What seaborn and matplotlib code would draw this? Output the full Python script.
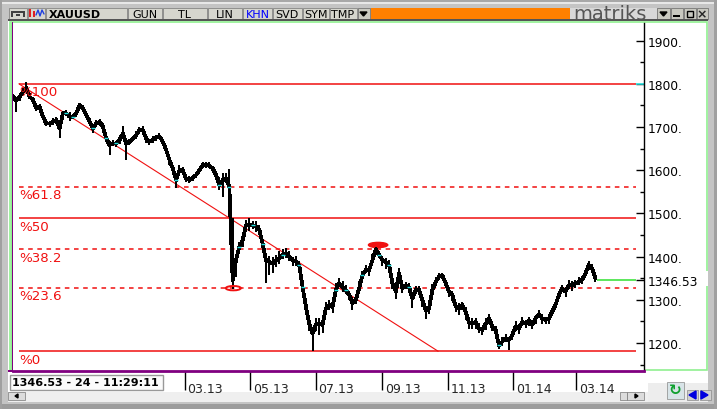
import numpy as np
import pandas as pd
import seaborn as sns
import matplotlib.pyplot as plt
import matplotlib.dates as mdates
from matplotlib.patches import Ellipse, Rectangle, Polygon
from matplotlib.transforms import ScaledTranslation

# closing prices
close = [1770, 1761, 1770, 1782, 1790, 1770, 1763, 1743, 1747, 1724, 1708, 1708, 1712, 1716, 1697, 1732,
         1732, 1724, 1724, 1732, 1751, 1743, 1728, 1712, 1697, 1708, 1712, 1701, 1674, 1658, 1662, 1662,
         1670, 1685, 1662, 1666, 1674, 1681, 1693, 1693, 1674, 1666, 1671, 1676, 1678, 1666, 1647, 1624,
         1604, 1577, 1600, 1600, 1581, 1577, 1583, 1589, 1600, 1612, 1612, 1610, 1604, 1589, 1566, 1577,
         1581, 1562,
         1345, 1392, 1423, 1438, 1473, 1473, 1473, 1469, 1462, 1430, 1392, 1388, 1384, 1392, 1396, 1404,
         1408, 1400, 1392, 1388, 1380, 1330, 1284, 1245, 1222, 1242, 1245, 1242, 1280, 1288, 1284, 1323,
         1338, 1330, 1323, 1311, 1292, 1300, 1327, 1357, 1369, 1369, 1392, 1417, 1404, 1392, 1388, 1380,
         1338, 1319,
         1361, 1327, 1334, 1330, 1303, 1323, 1323, 1300, 1276, 1280, 1323, 1342, 1354, 1357, 1338, 1319,
         1311, 1284, 1280, 1288, 1273, 1247, 1245, 1249, 1234, 1230, 1245, 1257, 1238, 1230, 1195, 1203,
         1211, 1207, 1218, 1238, 1234, 1249, 1245, 1253, 1242, 1257, 1267, 1257, 1253, 1257, 1273, 1288,
         1311, 1327, 1319, 1334, 1334, 1338, 1342, 1346, 1361, 1381, 1373, 1350]

# how far each bar reached below and above its close
reach_down = [8, 26, 9, 7, 10, 6, 9, 7, 10, 8, 6, 9, 7, 8, 23, 10, 7, 9, 6, 8, 7, 9,
              8, 6, 10, 7, 9, 8, 9, 23, 7, 8, 9, 6, 38, 8, 7, 9, 6, 8, 10, 7,
              8, 9, 6, 8, 10, 12, 9, 19, 14, 8, 9, 7, 8, 6, 9, 7, 8, 6, 9, 10,
              12, 38, 10, 60,
              20, 40, 14, 16, 12, 14, 10, 12, 9, 14, 52, 30, 22, 16, 14, 10, 12, 9, 14, 10,
              12, 14, 12, 18, 40, 14, 27, 18, 10, 12, 14, 10, 9, 12, 10, 12, 16, 9, 12, 10, 8,
              14, 9, 12, 8, 14, 16, 10, 12, 18,
              24, 12, 10, 14, 23, 10, 12, 16, 21, 12, 14, 10, 8, 6, 10, 12, 14, 12, 16, 12, 20,
              14, 12, 16, 10, 12, 14, 12, 10, 14, 8, 10, 9, 23, 12, 10, 12, 9, 10, 14, 9, 12, 10,
              14, 9, 12, 10, 8, 6, 10, 12, 9, 14, 10, 8, 9, 10, 12, 8, 8]
reach_up = [6, 8, 7, 9, 14, 8, 6, 9, 7, 8, 10, 6, 8, 7, 9, 6, 8, 10, 7, 6, 5, 8,
            6, 9, 7, 8, 6, 9, 7, 10, 8, 6, 9, 18, 8, 7, 6, 9, 8, 10, 6, 7,
            8, 6, 9, 7, 6, 8, 5, 6, 12, 8, 7, 9, 6, 8, 5, 6, 7, 8, 6, 7,
            18, 16, 12, 40,
            144, 14, 12, 16, 12, 16, 10, 14, 12, 6, 10, 14, 16, 12, 16, 14, 12, 14, 8, 14,
            10, 8, 8, 10, 14, 16, 14, 22, 14, 12, 14, 16, 12, 14, 12, 10, 14, 12, 16, 10, 12,
            10, 14, 6, 8, 10, 8, 12, 8, 6,
            12, 14, 8, 10, 12, 8, 10, 6, 8, 12, 14, 10, 8, 5, 8, 6, 10, 8, 12, 8, 10,
            12, 14, 10, 12, 8, 12, 10, 14, 10, 8, 12, 10, 8, 10, 14, 10, 12, 8, 8, 10, 8, 9,
            10, 8, 10, 8, 6, 10, 8, 10, 12, 10, 8, 12, 9, 8, 8, 10, 10]
cross_bars = [16, 18, 24, 28, 31, 49, 62, 65, 68, 72, 75, 81, 86, 87, 97, 100, 105, 110, 113, 119, 146]

fib_labels = ['%100', '%61.8', '%50', '%38.2', '%23.6', '%0']
fib_levels = [1800, 1562, 1489, 1417, 1327, 1181]
fib_text_y = [1782, 1543, 1469, 1399, 1309, 1161]
fib_solid = [True, False, True, False, False, True]
trend_dates = ['2012-09-27', '2013-10-23']
trend_prices = [1800, 1181]
last_price = 1346.53
month_ticks = ['2013-03-01', '2013-05-01', '2013-07-01', '2013-09-01', '2013-11-01', '2014-01-01', '2014-03-01']
month_labels = ['03.13', '05.13', '07.13', '09.13', '11.13', '01.14', '03.14']
price_ticks = [1200, 1300, 1346.53, 1400, 1500, 1600, 1700, 1800, 1900]
price_labels = ['1200.', '1300.', '1346.53', '1400.', '1500.', '1600.', '1700.', '1800.', '1900.']
tabs = ['GUN', 'TL', 'LIN', 'KHN', 'SVD', 'SYM', 'TMP']

W, H = 717, 410
RED = '#f01010'

sns.set_theme(style='white')
plt.rcParams['font.family'] = ['DejaVu Sans']

fig = plt.figure(figsize=(W / 100, H / 100), dpi=100, facecolor='#c4c4c4')

# window chrome, in pixels
bg = fig.add_axes([0, 0, 1, 1], zorder=0)
bg.set_xlim(0, W)
bg.set_ylim(H, 0)
bg.axis('off')


def box(x, y, w, h, color, **kw):
    bg.add_patch(Rectangle((x, y), w, h, facecolor=color, edgecolor=kw.pop('edge', 'none'), lw=kw.pop('lw', 0), **kw))


box(0, 0, W, 3, '#a8a8a8')
box(0, 3, W, 2, '#e8e8e8')
box(0, 405, W, 5, '#9c9c9c')
box(0, 0, 2, H, '#a0a0a0')
box(714, 0, 3, H, '#a0a0a0')
box(8, 21, 700, 352, 'white')
box(8, 373, 700, 20, '#ffffff')
box(8, 393, 640, 10, '#efefef')
box(648, 384, 60, 19, '#ededed')

buttons = [(9, 18), (28, 17), (46, 81), (128, 34), (163, 44), (208, 34), (243, 29), (273, 29), (303, 26), (330, 27)]
for x, w in buttons:
    box(x, 9, w, 11, '#d6d6ce', edge='#777777', lw=0.5)
box(371, 9, 199, 11, '#ff8000')
box(570, 9, 87, 11, '#d8d8d8')
for x, w in [(358, 12), (657, 13), (671, 12), (684, 12), (697, 11)]:
    box(x, 9, w, 11, '#c8c8c0', edge='#666666', lw=0.5)
box(8, 20, 700, 1.5, '#555555')

# the two little toolbar icons
box(11, 12, 14, 2, '#404040')
box(11, 12, 2, 6, '#404040')
box(23, 12, 2, 6, '#404040')
box(16, 15, 4, 2, '#404040')
box(29, 10, 2, 8, '#e02020')
box(33, 12, 2, 6, '#e02020')
bg.plot([36, 38, 40, 42, 44], [16, 11, 17, 11, 15], color='#2040e0', lw=1)

bg.text(49, 15, 'XAUUSD', fontsize=8, fontweight='bold', va='center', color='black')
for name, x in zip(tabs, [145, 185, 225, 258, 287, 316, 343]):
    bg.text(x, 15, name, fontsize=8, ha='center', va='center', color='#0000ff' if name == 'KHN' else 'black')
bg.text(573, 14, 'matriks', fontsize=14, va='center', color='#555555', clip_on=True)
bg.add_patch(Polygon([[360, 13], [367, 13], [363.5, 17]], color='black'))
bg.add_patch(Polygon([[660, 13], [667, 13], [663.5, 17]], color='black'))
box(673, 16, 7, 1.5, 'black')
box(687, 11.5, 6, 6, 'none', edge='black', lw=1)
bg.text(702, 14.5, '×', fontsize=9, fontweight='bold', ha='center', va='center')

box(10, 23, 696.5, 348, 'none', edge='#90f090', lw=1.2)
box(705, 272, 3, 15, 'white')
box(10.5, 24, 2, 347, '#90f090')

box(10, 376, 153, 14.5, '#fbfbfb', edge='#999999', lw=1)
bg.text(12, 383.5, '1346.53 - 24 - 11:29:11', fontsize=8.0, fontweight='bold', va='center', color='black')

# scroll buttons and refresh icon
for x, w in [(8, 17), (620, 7), (627, 17)]:
    box(x, 393, w, 8, '#dcdcdc', edge='#777777', lw=0.5)
bg.add_patch(Polygon([[15, 397], [18, 395], [18, 399]], color='black'))
bg.add_patch(Polygon([[638, 397], [635, 395], [635, 399]], color='black'))
box(667, 383, 17, 17, '#d8e4e8', edge='#888888', lw=0.5)
bg.text(675.5, 391, '↻', fontsize=11, fontweight='bold', color='#10a030', ha='center', va='center')
for x, pts in [(687, [[696, 392], [689, 396], [696, 400]]), (700, [[701, 392], [708, 396], [701, 400]])]:
    box(x, 391, 11, 10, '#d0d0d0', edge='#888888', lw=0.5)
    bg.add_patch(Polygon(pts, color='#0000e0'))

# price panel
ax = fig.add_axes([13 / W, 1 - 372 / H, (644 - 13) / W, (372 - 23.5) / H], zorder=1)
ax.set_facecolor('white')

dates = pd.date_range('2012-09-21 12:00', periods=len(close), freq=pd.Timedelta(hours=74.5))
df = pd.DataFrame({'date': dates, 'close': close, 'low': np.array(close) - np.array(reach_down),
                   'high': np.array(close) + np.array(reach_up)})

fib_start, fib_end = pd.Timestamp('2012-09-27'), pd.Timestamp('2014-04-26')
for level, solid in zip(fib_levels, fib_solid):
    ax.hlines(level, fib_start, fib_end, color=RED, lw=1.1, linestyles='-' if solid else (0, (3, 3)), zorder=2)
ax.plot(pd.to_datetime(trend_dates), trend_prices, color=RED, lw=0.8, zorder=2)
for label, y in zip(fib_labels, fib_text_y):
    ax.text(fib_start, y, label, color=RED, fontsize=9.6, va='center', zorder=5)

ax.vlines(df['date'], df['low'], df['high'], color='black', lw=1.3, zorder=3, antialiased=False)
sns.lineplot(data=df, x='date', y='close', color='black', lw=2.0, estimator=None, ax=ax, zorder=3, antialiased=False)
ax.plot(dates[cross_bars], df['close'].values[cross_bars], ls='none', marker='_', ms=3.5, mew=1, color='#20e0e0', zorder=4)

ax.hlines(last_price, pd.Timestamp('2014-03-20'), pd.Timestamp('2014-04-26'), color='#30e030', lw=1.1, zorder=2)
ax.hlines(1800, pd.Timestamp('2014-04-26'), pd.Timestamp('2014-05-03'), color='#20e8e8', lw=1.1, zorder=2)

d = mdates.date2num
ax.add_patch(Ellipse((d(pd.Timestamp('2013-04-15')), 1327), 14, 10, fill=False, edgecolor=RED, lw=1.4, zorder=4))
ax.add_patch(Ellipse((d(pd.Timestamp('2013-08-28')), 1427), 18, 12, color=RED, zorder=2))

ax.set_xlim(pd.Timestamp('2012-09-21 12:00'), pd.Timestamp('2014-05-03'))
ax.set_ylim(1135.3, 1941.9)
ax.set_xlabel('')
ax.set_ylabel('')

ax.yaxis.tick_right()
ax.set_yticks(price_ticks, labels=price_labels)
ax.set_yticks([1150, 1250, 1350, 1450, 1550, 1650, 1750, 1850], minor=True)
ax.tick_params(axis='y', which='major', direction='in', length=6, width=1, color='black',
               labelsize=8.8, pad=3, labelcolor='black', right=True)
ax.tick_params(axis='y', which='minor', direction='in', length=3, width=1, color='black', right=True)

ax.set_xticks(pd.to_datetime(month_ticks), labels=month_labels)
ax.tick_params(axis='x', direction='out', length=14, width=1, color='black', pad=-6, labelsize=9, bottom=True)
shift = ScaledTranslation(2.5 / 100, 0, fig.dpi_scale_trans)
for t in ax.get_xticklabels():
    t.set_ha('left')
    t.set_transform(t.get_transform() + shift)

for side in ['top', 'left']:
    ax.spines[side].set_visible(False)
ax.spines['right'].set_color('black')
ax.spines['right'].set_linewidth(1)
ax.spines['bottom'].set_color('#800080')
ax.spines['bottom'].set_linewidth(2)
box(12.2, 23, 0.9, 349, '#800080')
box(8, 371, 5, 2, '#800080')

fig.savefig('out.png', dpi=100)
